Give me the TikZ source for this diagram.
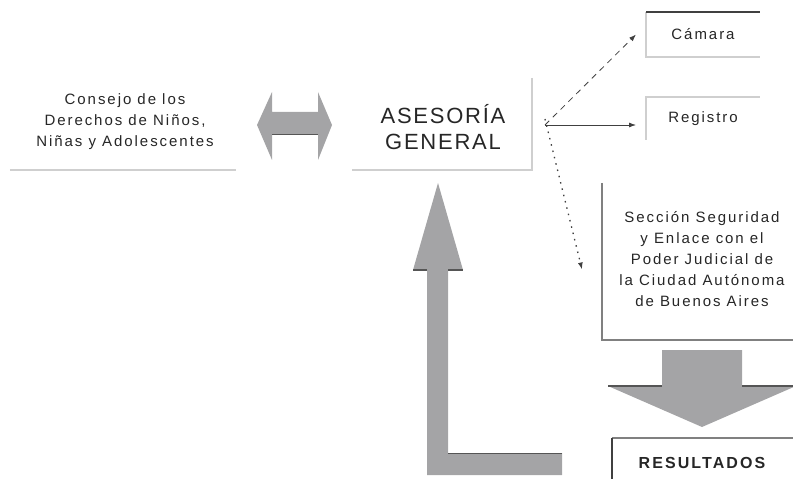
\documentclass[tikz,border=0pt]{standalone}
\usepackage{fontspec}
\setmainfont{Liberation Sans}
\usetikzlibrary{arrows.meta}
\definecolor{txt}{HTML}{262626}
\definecolor{blk}{HTML}{A4A4A6}
\definecolor{blkdark}{HTML}{555555}
\definecolor{lline}{HTML}{CFCFCF}
\definecolor{mline}{HTML}{808080}
\definecolor{dline}{HTML}{404040}
\tikzset{
  lbl/.style={text=txt, align=center, inner sep=0pt,
    font=\addfontfeatures{LetterSpace=13}\fontsize{15bp}{21bp}\selectfont},
  biglbl/.style={text=txt, align=center, inner sep=0pt,
    font=\addfontfeatures{LetterSpace=8}\fontsize{22bp}{26bp}\selectfont},
  boldlbl/.style={text=txt, align=center, inner sep=0pt,
    font=\addfontfeatures{LetterSpace=13}\fontsize{16bp}{18bp}\selectfont\bfseries},
  area/.style={inner sep=0pt, outer sep=0pt},
  light/.style={draw=lline, line width=1.2bp},
  medium/.style={draw=mline, line width=1.5bp},
  darkl/.style={draw=dline, line width=1.8bp},
  block/.style={fill=blk, draw=none},
  blockedge/.style={draw=blkdark, line width=1.2bp},
  link/.style={draw=dline, line width=0.8bp, -{Latex[length=7bp,width=5bp]}},
}
\begin{document}
\begin{tikzpicture}[x=1bp,y=-1bp]
\useasboundingbox (0,0) rectangle (793,479);
% areas of the boxes
\node[area, minimum width=226bp, minimum height=100bp] (consA) at (123,120) {};
\node[lbl] (cons) at (125,122) {Consejo de los\\Derechos de Niños,\\Niñas y Adolescentes};
\draw[light] (consA.south west) -- (consA.south east);

\node[area, minimum width=180bp, minimum height=92bp] (aseA) at (442,124) {};
\node[biglbl] (ase) at (443,127) {ASESORÍA\\GENERAL};
\draw[light] (aseA.north east) -- (aseA.south east) -- (aseA.south west);

\node[area, minimum width=114bp, minimum height=45bp] (cam) at (703,34.5) {};
\node[lbl] (camt) at (cam) {Cámara};
\draw[light] (cam.north west) -- (cam.south west) -- (cam.south east);
\draw[darkl] (cam.north west) -- (cam.north east);

\node[area, minimum width=114bp, minimum height=43bp] (reg) at (703,118.5) {};
\node[lbl] (regt) at (reg) {Registro};
\draw[light] (reg.south west) -- (reg.north west) -- (reg.north east);

\node[area, minimum width=191bp, minimum height=157bp] (sec) at (697.5,261.5) {};
\node[lbl] (sect) at (702,259) {Sección Seguridad\\y Enlace con el\\Poder Judicial de\\la Ciudad Autónoma\\de Buenos Aires};
\draw[medium] (sec.north west) -- (sec.south west) -- (sec.south east);

\node[area, minimum width=181bp, minimum height=41bp] (res) at (702.5,458.5) {};
\node[boldlbl] (rest) at (702,463) {RESULTADOS};
\draw[medium] (res.north west) -- (res.north east);
\draw[darkl] (res.north west) -- (res.south west);

% block arrows
\fill[block] (257,125) -- (272,92) -- (272,112) -- (318,112) -- (318,92) -- (332,125)
  -- (318,160) -- (318,135) -- (272,135) -- (272,160) -- cycle;
\draw[blockedge] (272,134.5) -- (318,134.5);

\fill[block] (438,183) -- (463,270) -- (448,270) -- (448,453) -- (562,453) -- (562,475)
  -- (427,475) -- (427,270) -- (413,270) -- cycle;
\draw[blockedge] (413,270) -- (427,270) (448,270) -- (463,270) (448,453.5) -- (562,453.5);

\fill[block] (662,350) -- (742,350) -- (742,386) -- (796,386) -- (702,427) -- (608,386)
  -- (662,386) -- cycle;
\draw[blockedge] (608,386) -- (662,386) (742,386) -- (793,386);

% connectors
\coordinate (src) at (545,125);
\draw[link, dashed, dash pattern=on 6bp off 5bp] (src) -- ([xshift=-10bp]cam.west);
\draw[link] (src) -- ([xshift=-10bp]reg.west |- src);
\draw[link, dash pattern=on 1.5bp off 5bp, line width=1.3bp] ([yshift=6bp]src) -- ([xshift=-20bp,yshift=-8bp]sec.west);
\end{tikzpicture}
\end{document}
